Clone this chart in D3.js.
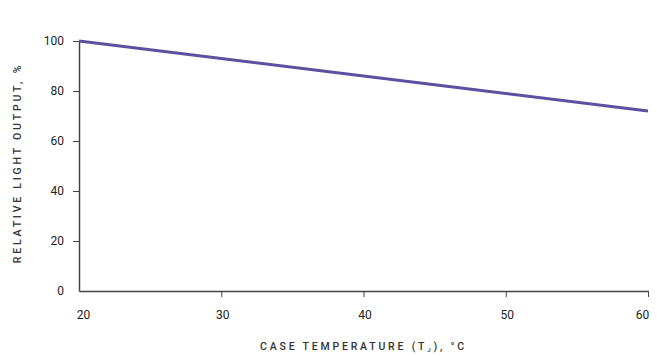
<!DOCTYPE html>
<html>
<head>
<meta charset="utf-8">
<script src="https://cdn.jsdelivr.net/npm/d3@7.9.0/dist/d3.min.js"></script>
<style>
  body { margin: 0; background: #fff; }
  svg text { font-family: Roboto, "DejaVu Sans", sans-serif; fill: #222; }
</style>
</head>
<body>
<svg id="chart" width="657" height="356"></svg>
<script>
// data
const temps = [20, 30, 40, 50, 60];
const output = [100, 93, 86, 79, 72];
const xTicks = [20, 30, 40, 50, 60];
const yTicks = [0, 20, 40, 60, 80, 100];

const margin = { top: 41, right: 9, bottom: 65, left: 79 };
const width = 657, height = 356;

const svg = d3.select('#chart');

const x = d3.scaleLinear().domain([20, 60]).range([margin.left, width - margin.right]);
const y = d3.scaleLinear().domain([0, 100]).range([height - margin.bottom, margin.top]);

// x axis
let xAxis = svg.append('g')
  .attr('transform', `translate(0,${y(0)})`)
  .call(d3.axisBottom(x).tickValues(xTicks).tickSize(6).tickPadding(13).tickSizeOuter(0));
xAxis.select('.domain').attr('stroke', '#444').attr('stroke-width', 1.5);
xAxis.selectAll('.tick line').attr('stroke', '#444').attr('stroke-width', 1);
xAxis.selectAll('.tick text')
  .style('font-size', '12px')
  .attr('dx', (d, i) => i === 0 ? 4 : i === xTicks.length - 1 ? -6 : 1);
xAxis.selectAll('.tick').filter((d) => d === 20).select('line').remove();

// y axis
let yAxis = svg.append('g')
  .attr('transform', `translate(${x(20)},0)`)
  .call(d3.axisLeft(y).tickValues(yTicks).tickSize(6).tickPadding(9).tickSizeOuter(0));
yAxis.select('.domain').attr('stroke', '#444').attr('stroke-width', 1.5);
yAxis.selectAll('.tick line').attr('stroke', '#444').attr('stroke-width', 1);
yAxis.selectAll('.tick text').style('font-size', '12px');
yAxis.selectAll('.tick').filter((d) => d === 0).select('line').remove();

// the curve
const line = d3.line().x((d, i) => x(temps[i])).y((d) => y(d));
svg.append('path')
  .datum(output)
  .attr('d', line)
  .attr('fill', 'none')
  .attr('stroke', '#5b51a0')
  .attr('stroke-width', 3);

// axis titles
svg.append('text')
  .attr('x', (x(20) + x(60)) / 2)
  .attr('y', 350)
  .attr('text-anchor', 'middle')
  .style('font-size', '10.5px')
  .style('font-weight', '500')
  .style('fill', '#333')
  .style('letter-spacing', '2.8px')
  .html('CASE TEMPERATURE (T<tspan font-size="6px" dy="2">J</tspan><tspan dy="-2">), °C</tspan>');

svg.append('text')
  .attr('transform', `translate(21,163) rotate(-90)`)
  .attr('text-anchor', 'middle')
  .style('font-size', '10.5px')
  .style('font-weight', '500')
  .style('fill', '#333')
  .style('letter-spacing', '2.8px')
  .text('RELATIVE LIGHT OUTPUT, %');
</script>
</body>
</html>
